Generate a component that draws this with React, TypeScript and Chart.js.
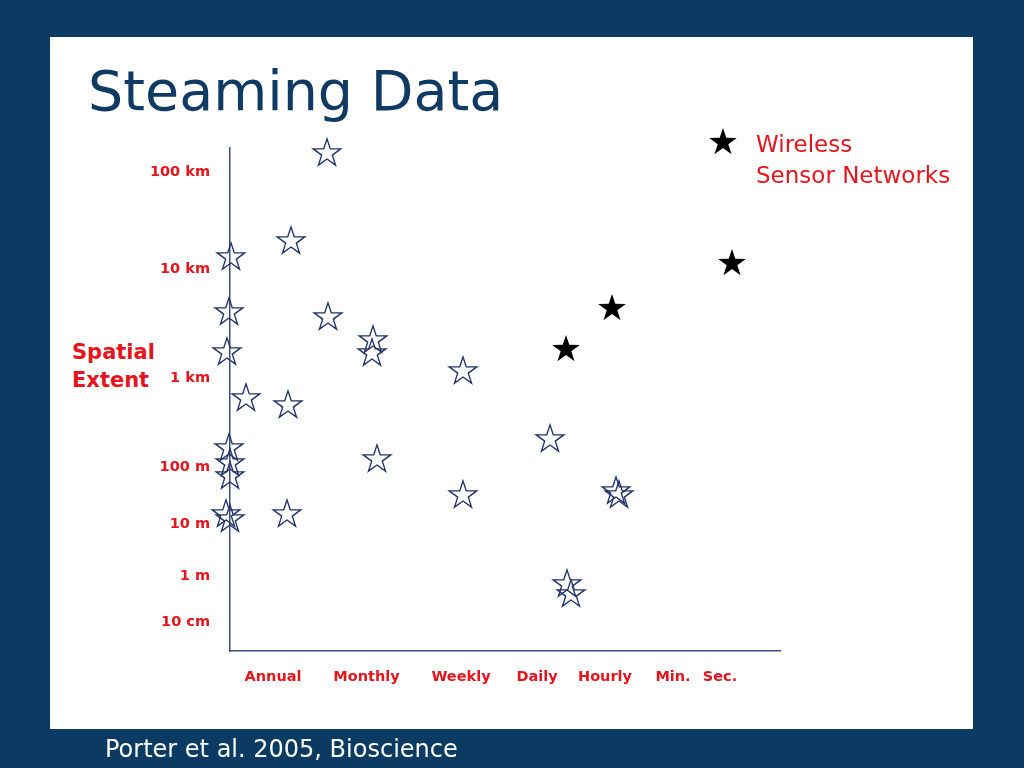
import React, { useEffect, useRef } from "react";
import { Chart, registerables } from "chart.js";

Chart.register(...registerables);

// Temporal axis (position units along the x axis)
const xTickLabels = ["Annual", "Monthly", "Weekly", "Daily", "Hourly", "Min.", "Sec."];
const xTickPos = [0.86, 2.73, 4.62, 6.14, 7.5, 8.86, 9.8];

// Spatial axis (position units along the y axis)
const yTickLabels = ["100 km", "10 km", "1 km", "100 m", "10 m", "1 m", "10 cm"];
const yTickPos = [9.58, 7.64, 5.46, 3.68, 2.54, 1.5, 0.58];

// Traditional studies (open stars)
const studyX = [1.94, 1.22, 0.02, -0.02, 1.96, 2.86, 2.84, -0.06, 4.66, 0.32, 1.16, 6.4, -0.02, 0.0, 0.0, 2.94, 4.66, 7.72, 7.78, -0.08, 0.0, 1.14, 6.74, 6.82];
const studyY = [9.98, 8.22, 7.9, 6.8, 6.7, 6.24, 5.98, 6.0, 5.62, 5.08, 4.94, 4.26, 4.08, 3.78, 3.52, 3.86, 3.14, 3.22, 3.14, 2.76, 2.66, 2.76, 1.36, 1.16];

// Wireless sensor networks (filled stars)
const wsnX = [6.72, 7.64, 10.04];
const wsnY = [6.06, 6.88, 7.78];

const NAVY_BG = "#0b3a62";
const TITLE_NAVY = "#0e3a63";
const RED = "#e8141c";
const AXIS = "#3d4f78";
const STAR_LINE = "#22346b";

function starPoints(cx: number, cy: number, R: number, r: number) {
  const pts: [number, number][] = [];
  for (let k = 0; k < 10; k++) {
    const a = -Math.PI / 2 + (k * Math.PI) / 5;
    const rad = k % 2 === 0 ? R : r;
    pts.push([cx + rad * Math.cos(a), cy + rad * Math.sin(a)]);
  }
  return pts;
}

function makeStar(filled: boolean) {
  const c = document.createElement("canvas");
  c.width = 34;
  c.height = 34;
  const ctx = c.getContext("2d")!;
  const pts = starPoints(17, 18.4, 14.5, 5.6);
  ctx.beginPath();
  pts.forEach(([x, y], i) => (i === 0 ? ctx.moveTo(x, y) : ctx.lineTo(x, y)));
  ctx.closePath();
  if (filled) {
    ctx.fillStyle = "#000";
    ctx.fill();
  } else {
    ctx.strokeStyle = STAR_LINE;
    ctx.lineWidth = 1.4;
    ctx.stroke();
  }
  return c;
}

const tickFont = { family: "'DejaVu Sans', sans-serif", weight: "bold" as const, size: 14.5 };

export default function App() {
  const ref = useRef<HTMLCanvasElement | null>(null);

  useEffect(() => {
    if (!ref.current) return;
    const openStar = makeStar(false);
    const fullStar = makeStar(true);
    const chart = new Chart(ref.current, {
      type: "scatter",
      data: {
        datasets: [
          {
            label: "Studies",
            data: studyX.map((x, i) => ({ x, y: studyY[i] })),
            pointStyle: openStar as any,
            pointRadius: 14,
            showLine: false,
            clip: false as any,
          },
          {
            label: "Wireless Sensor Networks",
            data: wsnX.map((x, i) => ({ x, y: wsnY[i] })),
            pointStyle: fullStar as any,
            pointRadius: 14,
            showLine: false,
            clip: false as any,
          },
        ],
      },
      options: {
        animation: false,
        responsive: false,
        maintainAspectRatio: false,
        events: [],
        layout: { padding: { left: 130, right: 244, top: 148, bottom: 57 } },
        plugins: { legend: { display: false }, tooltip: { enabled: false } },
        scales: {
          x: {
            type: "linear",
            min: 0,
            max: 11,
            grid: { display: false, drawTicks: false },
            border: { display: true, color: AXIS, width: 1.5 },
            afterBuildTicks: (s: any) => {
              s.ticks = xTickPos.map((v) => ({ value: v }));
            },
            afterFit: (s: any) => {
              s.height = 60;
            },
            ticks: {
              autoSkip: false,
              maxRotation: 0,
              padding: 18,
              color: RED,
              font: tickFont,
              callback: (_v: any, i: number) => xTickLabels[i],
            },
          },
          y: {
            type: "linear",
            min: 0,
            max: 10.06,
            grid: { display: false, drawTicks: false },
            border: { display: true, color: AXIS, width: 1.5 },
            afterBuildTicks: (s: any) => {
              s.ticks = yTickPos.map((v) => ({ value: v }));
            },
            afterFit: (s: any) => {
              s.width = 100;
            },
            ticks: {
              autoSkip: false,
              padding: 20,
              color: RED,
              font: tickFont,
              callback: (_v: any, i: number) => yTickLabels[i],
            },
          },
        },
      },
    });
    return () => chart.destroy();
  }, []);

  const legendStar = starPoints(15, 16.4, 14.5, 5.6)
    .map((p) => p.join(","))
    .join(" ");

  const text = (extra: React.CSSProperties): React.CSSProperties => ({
    position: "absolute",
    lineHeight: 1,
    whiteSpace: "nowrap",
    fontFamily: "'DejaVu Sans', sans-serif",
    ...extra,
  });

  return (
    <div
      style={{
        position: "fixed",
        left: 0,
        top: 0,
        width: 1024,
        height: 768,
        background: NAVY_BG,
        overflow: "hidden",
      }}
    >
      <div style={{ position: "absolute", left: 50, top: 37, width: 923, height: 692, background: "#ffffff" }} />
      <div style={text({ left: 88, top: 63, fontSize: 55.5, color: TITLE_NAVY })}>Steaming Data</div>
      <div style={text({ left: 72, top: 342.2, fontSize: 21, fontWeight: "bold", color: RED })}>Spatial</div>
      <div style={text({ left: 72, top: 370.2, fontSize: 21, fontWeight: "bold", color: RED })}>Extent</div>
      <canvas
        ref={ref}
        width={1024}
        height={768}
        style={{ position: "absolute", left: 0, top: 0, width: 1024, height: 768 }}
      />
      <svg style={{ position: "absolute", left: 708, top: 126 }} width={30} height={32}>
        <polygon points={legendStar} fill="#000" />
      </svg>
      <div style={text({ left: 756, top: 132.5, fontSize: 23, color: RED })}>Wireless</div>
      <div style={text({ left: 756, top: 163.5, fontSize: 23, color: RED })}>Sensor Networks</div>
      <div style={text({ left: 105, top: 736.7, fontSize: 24, color: "#ffffff" })}>Porter et al. 2005, Bioscience</div>
    </div>
  );
}
